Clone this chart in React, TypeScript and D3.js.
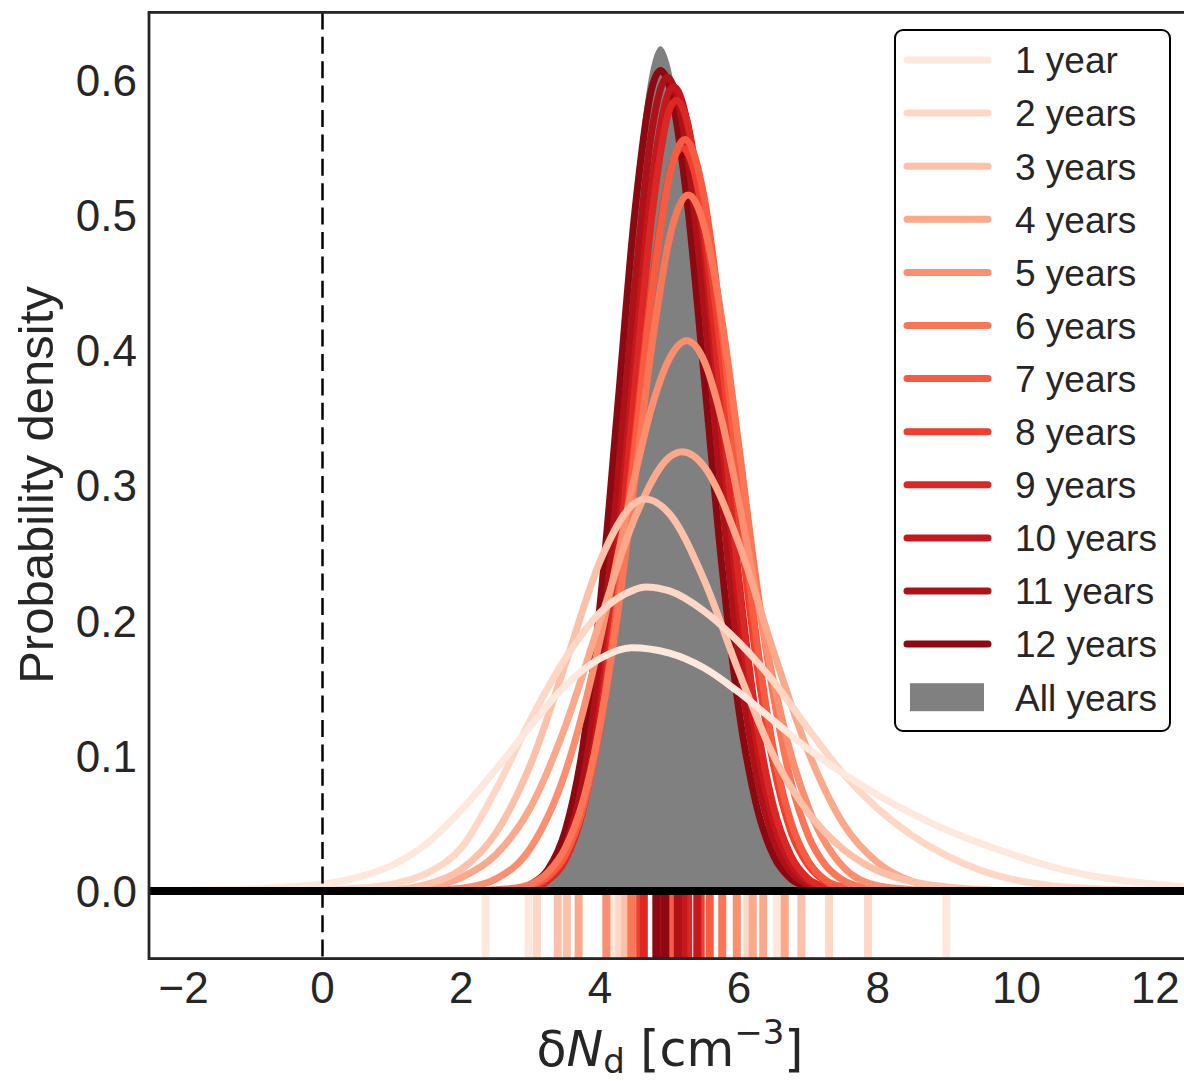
import React from "react";
import * as d3 from "d3";

type Pt = [number, number];

const seriesLabels = ["1 year", "2 years", "3 years", "4 years", "5 years", "6 years", "7 years", "8 years", "9 years", "10 years", "11 years", "12 years"];
const allYearsLabel = "All years";
const palette = ["#fee8dd", "#fed7c7", "#fcc1a8", "#fca88b", "#fc8f6f", "#fb7656", "#f75c41", "#f03f2e", "#dc2824", "#c5171c", "#ae1117", "#8d0912"];
const allYearsColor = "#808080";

const density1: Pt[] = [[-2.5,0.0002],[-2,0.0004],[-1.5,0.0008],[-1,0.0015],[-0.5,0.003],[0,0.005],[0.5,0.01],[1,0.019],[1.5,0.035],[2,0.06],[2.5,0.09],[3,0.122],[3.5,0.152],[4,0.172],[4.45,0.18],[5,0.176],[5.5,0.165],[6,0.147],[6.5,0.126],[7,0.105],[7.5,0.087],[8,0.071],[8.5,0.057],[9,0.045],[9.5,0.035],[10,0.026],[10.5,0.018],[11,0.012],[11.5,0.008],[12,0.005],[12.5,0.003]];
const density2: Pt[] = [[-1,0],[-0.5,0.0005],[0,0.001],[0.5,0.002],[1,0.005],[1.5,0.013],[2,0.032],[2.5,0.075],[3,0.127],[3.5,0.172],[4,0.206],[4.5,0.223],[4.65,0.225],[5,0.222],[5.5,0.207],[6,0.184],[6.5,0.155],[7,0.12],[7.5,0.087],[8,0.061],[8.5,0.041],[9,0.026],[9.5,0.015],[10,0.008],[10.5,0.004],[11,0.002],[11.5,0.001],[12,0]];
const density3: Pt[] = [[0,0],[0.5,0.0005],[1,0.001],[1.5,0.005],[2,0.016],[2.5,0.043],[3,0.094],[3.5,0.168],[4,0.244],[4.5,0.287],[4.65,0.29],[5,0.279],[5.5,0.23],[6,0.162],[6.5,0.1],[7,0.058],[7.5,0.031],[8,0.015],[8.5,0.007],[9,0.003],[9.5,0.001],[10,0]];
const density4: Pt[] = [[0.5,0],[1,0.0005],[1.5,0.003],[2,0.01],[2.5,0.027],[3,0.062],[3.5,0.122],[4,0.2],[4.5,0.276],[5,0.321],[5.18,0.325],[5.5,0.314],[6,0.257],[6.5,0.177],[7,0.103],[7.5,0.05],[8,0.021],[8.5,0.007],[9,0.002],[9.5,0]];
const density5: Pt[] = [[1,0],[1.5,0.0005],[2,0.002],[2.5,0.009],[3,0.032],[3.5,0.088],[3.75,0.132],[4,0.186],[4.25,0.247],[4.5,0.307],[4.75,0.359],[5,0.394],[5.25,0.407],[5.5,0.392],[5.75,0.349],[6,0.288],[6.25,0.22],[6.5,0.155],[6.75,0.101],[7,0.062],[7.5,0.018],[8,0.004],[8.5,0.001],[9,0]];
const density6: Pt[] = [[2.25,0],[2.5,0.001],[2.75,0.002],[3,0.005],[3.25,0.014],[3.5,0.032],[3.75,0.066],[4,0.123],[4.25,0.204],[4.5,0.304],[4.75,0.405],[5,0.483],[5.27,0.515],[5.5,0.492],[5.75,0.424],[6,0.329],[6.25,0.229],[6.5,0.144],[6.75,0.081],[7,0.041],[7.25,0.019],[7.5,0.008],[7.75,0.003],[8,0.001],[8.25,0]];
const density7: Pt[] = [[2.25,0],[2.5,0],[2.75,0.001],[3,0.004],[3.25,0.011],[3.5,0.027],[3.75,0.061],[4,0.122],[4.25,0.213],[4.5,0.327],[4.75,0.444],[5,0.529],[5.22,0.556],[5.5,0.513],[5.75,0.418],[6,0.299],[6.25,0.188],[6.5,0.104],[6.75,0.051],[7,0.022],[7.25,0.008],[7.5,0.003],[7.75,0.001],[8,0]];
const density8: Pt[] = [[2.25,0],[2.5,0],[2.75,0.001],[3,0.003],[3.25,0.01],[3.5,0.026],[3.75,0.061],[4,0.122],[4.25,0.215],[4.5,0.334],[4.75,0.45],[5,0.531],[5.18,0.55],[5.25,0.547],[5.5,0.496],[5.75,0.395],[6,0.277],[6.25,0.171],[6.5,0.093],[6.75,0.044],[7,0.019],[7.25,0.007],[7.5,0.002],[7.75,0.001],[8,0]];
const density9: Pt[] = [[2.25,0],[2.5,0],[2.75,0.001],[3,0.002],[3.25,0.008],[3.5,0.023],[3.75,0.059],[4,0.127],[4.25,0.235],[4.5,0.372],[4.75,0.501],[5,0.578],[5.1,0.585],[5.25,0.57],[5.5,0.487],[5.75,0.36],[6,0.231],[6.25,0.128],[6.5,0.062],[6.75,0.026],[7,0.009],[7.25,0.003],[7.5,0.001],[7.75,0]];
const density10: Pt[] = [[2.25,0],[2.5,0],[2.75,0.001],[3,0.002],[3.25,0.008],[3.5,0.025],[3.75,0.064],[4,0.138],[4.25,0.254],[4.5,0.396],[4.75,0.525],[5,0.592],[5.06,0.595],[5.25,0.57],[5.5,0.473],[5.75,0.339],[6,0.209],[6.25,0.111],[6.5,0.051],[6.75,0.02],[7,0.007],[7.25,0.002],[7.5,0.001],[7.75,0]];
const density11: Pt[] = [[2.25,0],[2.5,0],[2.75,0.001],[3,0.003],[3.25,0.011],[3.5,0.033],[3.75,0.081],[4,0.17],[4.25,0.3],[4.5,0.447],[4.75,0.564],[4.97,0.602],[5,0.601],[5.25,0.548],[5.5,0.432],[5.75,0.293],[6,0.171],[6.25,0.087],[6.5,0.038],[6.75,0.014],[7,0.005],[7.25,0.001],[7.5,0]];
const density12: Pt[] = [[2.25,0],[2.5,0],[2.75,0.001],[3,0.005],[3.25,0.016],[3.5,0.045],[3.75,0.106],[4,0.212],[4.25,0.356],[4.5,0.502],[4.75,0.595],[4.87,0.607],[5,0.595],[5.25,0.512],[5.5,0.38],[5.75,0.243],[6,0.134],[6.25,0.064],[6.5,0.026],[6.75,0.009],[7,0.003],[7.25,0.001],[7.5,0]];
const densityAll: Pt[] = [[2.25,0],[2.5,0],[2.75,0.001],[3,0.005],[3.25,0.016],[3.5,0.046],[3.75,0.109],[4,0.218],[4.25,0.366],[4.5,0.517],[4.75,0.613],[4.87,0.625],[5,0.612],[5.25,0.524],[5.5,0.385],[5.75,0.243],[6,0.131],[6.25,0.061],[6.5,0.024],[6.75,0.008],[7,0.002],[7.25,0.001],[7.5,0]];

const rug1 = [2.35, 2.97, 4.2, 6.55, 8.99];
const rug2 = [3.09, 4.28, 6.12, 7.3, 7.86];
const rug3 = [3.39, 3.52, 4.36, 6.9];
const rug4 = [3.69, 6.2, 6.35, 6.66];
const rug5 = [4.09, 4.5, 5.97];
const rug6 = [4.45, 5.76];
const rug7 = [5.01, 5.58];
const rug8 = [4.58, 5.45];
const rug9 = [4.63, 5.27];
const rug10 = [5.2, 5.4];
const rug11 = [4.85, 5.12];
const rug12 = [4.81, 4.94];

const xTicks = [-2, 0, 2, 4, 6, 8, 10, 12];
const yTicks = [0, 0.1, 0.2, 0.3, 0.4, 0.5, 0.6];

const densities = [density1, density2, density3, density4, density5, density6, density7, density8, density9, density10, density11, density12];
const rugs = [rug1, rug2, rug3, rug4, rug5, rug6, rug7, rug8, rug9, rug10, rug11, rug12];

const TEXT = "#262626";
const SANS = "'Liberation Sans', Arial, sans-serif";

export default function App() {
  const W = 1184, H = 1081;
  const left = 149, right = 1190, top = 12.4, bottom = 958.6;
  const x = d3.scaleLinear().domain([-2.5, 12.5]).range([left, right]);
  const y = d3.scaleLinear().domain([-0.05, 0.65]).range([bottom, top]);
  const line = d3.line<Pt>().x(d => x(d[0])).y(d => y(d[1])).curve(d3.curveMonotoneX);
  const area = d3.area<Pt>().x(d => x(d[0])).y0(y(0)).y1(d => y(d[1])).curve(d3.curveMonotoneX);

  const legX = 895, legY = 30, legW = 275, legH = 701;
  const rowY = (i: number) => 60 + i * 53.1;
  const drawOrder = densities.map((_, i) => i).reverse();

  return (
    <svg width={W} height={H} style={{ position: "absolute", left: 0, top: 0, background: "#fff" }}>
      <defs>
        <clipPath id="plotClip">
          <rect x={left} y={top} width={right - left} height={bottom - top} />
        </clipPath>
      </defs>
      <rect x={0} y={0} width={W} height={H} fill="#fff" />
      <g clipPath="url(#plotClip)">
        {rugs.map((r, i) =>
          r.map((v, j) => (
            <line key={`r${i}-${j}`} x1={x(v)} x2={x(v)} y1={y(0)} y2={y(-0.05)} stroke={palette[i]} strokeWidth={8} />
          ))
        )}
        <path d={area(densityAll) || ""} fill={allYearsColor} />
        {drawOrder.map(i => (
          <path key={`c${i}`} d={line(densities[i]) || ""} fill="none" stroke={palette[i]} strokeWidth={7} strokeLinejoin="round" />
        ))}
        <line x1={left} x2={right} y1={y(0)} y2={y(0)} stroke="#000" strokeWidth={8} />
        <line x1={x(0)} x2={x(0)} y1={top} y2={bottom} stroke="#000" strokeWidth={2.5} strokeDasharray="17,7.4" />
      </g>
      <rect x={left} y={top} width={right - left} height={bottom - top} fill="none" stroke={TEXT} strokeWidth={2.8} />

      {yTicks.map(v => (
        <text key={`yt${v}`} x={137} y={y(v)} dy="0.36em" textAnchor="end" fontFamily={SANS} fontSize={44} fill={TEXT}>
          {v.toFixed(1)}
        </text>
      ))}
      {xTicks.map(v => (
        <text key={`xt${v}`} x={x(v)} y={1003} textAnchor="middle" fontFamily={SANS} fontSize={44} fill={TEXT}>
          {v < 0 ? `\u2212${Math.abs(v)}` : `${v}`}
        </text>
      ))}
      <text transform={`translate(53,485) rotate(-90)`} textAnchor="middle" fontFamily={SANS} fontSize={49} fill={TEXT}>
        Probability density
      </text>
      <text x={670} y={1066} textAnchor="middle" fontFamily="'DejaVu Sans', sans-serif" fontSize={49} fill={TEXT}>
        <tspan>δ</tspan>
        <tspan fontStyle="italic">N</tspan>
        <tspan fontSize={34} dy={7}>d</tspan>
        <tspan dy={-7}> [cm</tspan>
        <tspan fontSize={34} dy={-22}>−3</tspan>
        <tspan dy={22}>]</tspan>
      </text>

      <g>
        <rect x={legX} y={legY} width={legW} height={legH} rx={8} ry={8} fill="#fff" stroke="#000" strokeWidth={2} />
        {seriesLabels.map((lab, i) => (
          <g key={`lg${i}`}>
            <line x1={907} x2={988} y1={rowY(i)} y2={rowY(i)} stroke={palette[i]} strokeWidth={7} strokeLinecap="round" />
            <text x={1015} y={rowY(i)} dy="0.36em" fontFamily={SANS} fontSize={37} fill={TEXT}>{lab}</text>
          </g>
        ))}
        <rect x={910} y={rowY(12) - 14} width={74} height={28} fill={allYearsColor} />
        <text x={1015} y={rowY(12)} dy="0.36em" fontFamily={SANS} fontSize={37} fill={TEXT}>{allYearsLabel}</text>
      </g>
    </svg>
  );
}
